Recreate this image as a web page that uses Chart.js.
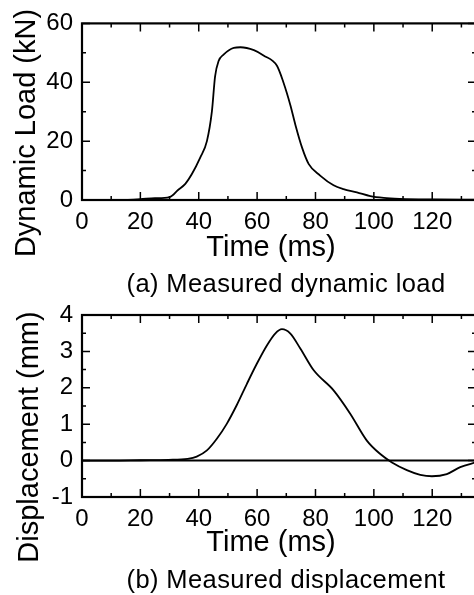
<!DOCTYPE html>
<html>
<head>
<meta charset="utf-8">
<script src="https://cdn.jsdelivr.net/npm/chart.js@4.4.0/dist/chart.umd.min.js"></script>
<style>
  html, body { margin: 0; padding: 0; background: #fff; overflow: hidden; width: 474px; height: 595px; }
  .wrap { position: absolute; left: 0; width: 480px; }
  .txt { position: absolute; font-family: "Liberation Sans", Arial, sans-serif; color: #000; white-space: nowrap; line-height: 1; }
  .ytitle { transform-origin: center center; transform: translate(-50%, -50%) rotate(-90deg); }
  .ctr { transform: translate(-50%, -50%); }
</style>
</head>
<body>
<div class="wrap" style="top:0px;height:232px;"><canvas id="c1"></canvas></div>
<div class="wrap" style="top:290px;height:240px;"><canvas id="c2"></canvas></div>

<div class="txt ytitle" style="left:25px;top:133px;font-size:29px;">Dynamic Load (kN)</div>
<div class="txt ctr" style="left:271px;top:246px;font-size:29px;">Time (ms)</div>
<div class="txt ctr" style="left:286px;top:284px;font-size:25.5px;letter-spacing:0.4px;">(a) Measured dynamic load</div>

<div class="txt ytitle" style="left:28px;top:437px;font-size:29px;">Displacement (mm)</div>
<div class="txt ctr" style="left:271px;top:541px;font-size:29px;">Time (ms)</div>
<div class="txt ctr" style="left:286px;top:580px;font-size:25.5px;letter-spacing:0.4px;">(b) Measured displacement</div>

<script>
// ---- data ----
const xTicks = [0, 20, 40, 60, 80, 100, 120];
const loadTicks = [0, 20, 40, 60];
const dispTicks = [-1, 0, 1, 2, 3, 4];

const loadTime = [0, 10, 15, 20, 25, 30, 33, 35.4, 37.7, 40.5, 42.8, 44.5, 45.6, 46.8, 48.5, 52, 54.3, 58.9, 62.2, 66.8, 69, 71.4, 73.1, 75.4, 77.7, 81.6, 86.2, 89.6, 94.2, 98.8, 103.4, 109, 120.5, 135];
const loadKN   = [0, 0, 0.05, 0.3, 0.6, 1.0, 3.5, 5.5, 8.9, 14.4, 20, 30, 42, 47.2, 49.4, 51.7, 51.9, 50.9, 49.1, 45.6, 40, 32.2, 25.6, 17.8, 12.2, 8.3, 5.0, 3.7, 2.6, 1.3, 0.7, 0.4, 0.2, 0.1];

const dispTime = [0, 10, 20, 29.6, 36.2, 39.3, 42.8, 46.2, 49.6, 53, 56.5, 59.9, 63.4, 66.2, 68.5, 71.4, 74.8, 79.4, 86.2, 91.9, 97.6, 102.2, 106.2, 111.3, 115.9, 119.9, 125, 129.6, 135];
const dispMM   = [0, 0, 0.01, 0.02, 0.05, 0.11, 0.28, 0.6, 1.01, 1.52, 2.11, 2.66, 3.17, 3.49, 3.61, 3.49, 3.08, 2.48, 1.93, 1.29, 0.55, 0.18, -0.05, -0.26, -0.39, -0.43, -0.37, -0.18, -0.05];

const FONT = "'Liberation Sans', Arial, sans-serif";

const framePlugin = {
  id: 'frame',
  afterDraw(chart, args, opts) {
    const {ctx, chartArea: a, scales: {x, y}} = chart;
    ctx.save();
    ctx.strokeStyle = '#000';
    ctx.lineWidth = 1.5;
    ctx.beginPath();
    for (let v = x.min; v <= x.max + 1e-9; v += opts.xMinor) {
      const px = x.getPixelForValue(v);
      const len = Math.abs(v / opts.xMajor - Math.round(v / opts.xMajor)) < 1e-6 ? 8 : 4;
      ctx.moveTo(px, a.bottom); ctx.lineTo(px, a.bottom - len);
      ctx.moveTo(px, a.top); ctx.lineTo(px, a.top + len);
    }
    for (let v = y.min; v <= y.max + 1e-9; v += opts.yMinor) {
      const py = y.getPixelForValue(v);
      const len = Math.abs(v / opts.yMajor - Math.round(v / opts.yMajor)) < 1e-6 ? 8 : 4;
      ctx.moveTo(a.left, py); ctx.lineTo(a.left + len, py);
      ctx.moveTo(a.right, py); ctx.lineTo(a.right - len, py);
    }
    ctx.stroke();
    if (opts.zeroLine) {
      const pz = y.getPixelForValue(0);
      ctx.lineWidth = 2;
      ctx.beginPath();
      ctx.moveTo(a.left, pz); ctx.lineTo(a.right, pz);
      ctx.stroke();
    }
    ctx.lineWidth = 2.2;
    ctx.strokeRect(a.left, a.top, a.right - a.left, a.bottom - a.top);
    ctx.restore();
  }
};

function makeChart(id, times, vals, yTicks, yMin, yMax, areaTop, areaBottom, canvasH, yMinor, yMajor, zeroLine) {
  const data = times.map((t, i) => ({x: t, y: vals[i]}));
  return new Chart(document.getElementById(id), {
    type: 'line',
    data: { datasets: [{ data, borderColor: '#000', borderWidth: 1.8, pointRadius: 0, fill: false, cubicInterpolationMode: 'monotone' }] },
    options: {
      responsive: true, maintainAspectRatio: false, animation: false,
      layout: { padding: { top: areaTop, right: 4, left: 0, bottom: 0 } },
      plugins: { legend: { display: false }, tooltip: { enabled: false },
        frame: { xMinor: 10, xMajor: 20, yMinor, yMajor, zeroLine } },
      scales: {
        x: {
          type: 'linear', min: 0, max: 135,
          afterBuildTicks: s => { s.ticks = xTicks.map(v => ({value: v})); },
          afterFit: s => { s.height = canvasH - areaBottom; },
          grid: { display: false, drawTicks: false }, border: { display: false },
          ticks: { color: '#000', font: { family: FONT, size: 24 }, padding: 8, maxRotation: 0, autoSkip: false }
        },
        y: {
          type: 'linear', min: yMin, max: yMax,
          afterBuildTicks: s => { s.ticks = yTicks.map(v => ({value: v})); },
          afterFit: s => { s.width = 82; },
          grid: { display: false, drawTicks: false }, border: { display: false },
          ticks: { color: '#000', font: { family: FONT, size: 24 }, padding: 9, autoSkip: false }
        }
      }
    },
    plugins: [framePlugin]
  });
}

makeChart('c1', loadTime, loadKN, loadTicks, 0, 60, 20, 200, 232, 10, 20, false);
makeChart('c2', dispTime, dispMM, dispTicks, -1, 4, 25, 207, 240, 0.5, 1, true);
</script>
</body>
</html>
